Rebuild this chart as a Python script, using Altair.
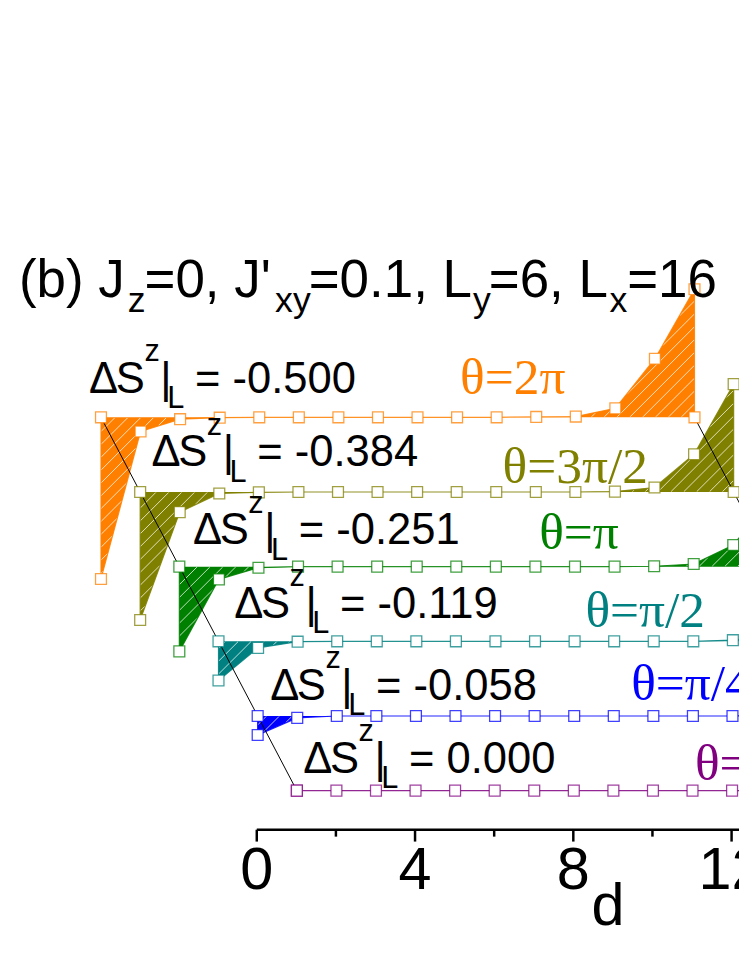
import altair as alt
import numpy as np
import pandas as pd

# ---------------- data ----------------
sites = list(range(16))
theta_text = ["θ=2π", "θ=3π/2", "θ=π", "θ=π/2", "θ=π/4", "θ=0"]
dsl_text = ["-0.500", "-0.384", "-0.251", "-0.119", "-0.058", "0.000"]
row_colors = ["#FF8000", "#808000", "#008000", "#008080", "#0000FF", "#800080"]

prof_2pi = [-0.433, -0.038, -0.005, -0.001, 0, 0, 0, 0, 0, 0, 0, 0.001, 0.002, 0.024, 0.157, 0.343]
prof_3pi2 = [-0.343, -0.054, -0.004, -0.001, 0, 0, 0, 0, 0, 0, 0, 0, 0.001, 0.012, 0.101, 0.289]
prof_pi = [-0.227, -0.034, -0.003, 0, 0, 0, 0, 0, 0, 0, 0, 0, 0.001, 0.007, 0.058, 0.190]
prof_pi2 = [-0.105, -0.0175, -0.001, 0, 0, 0, 0, 0, 0, 0, 0, 0, 0, 0.003, 0.022, 0.094]
prof_pi4 = [-0.051, -0.005, 0, 0, 0, 0, 0, 0, 0, 0, 0, 0, 0, 0.002, 0.008, 0.048]
prof_0 = [0, 0, 0, 0, 0, 0, 0, 0, 0, 0, 0, 0, 0, 0, 0, 0]
profiles = [prof_2pi, prof_3pi2, prof_pi, prof_pi2, prof_pi4, prof_0]

title_parts = [("(b) J", "n"), ("z", "s"), ("=0, J'", "n"), ("xy", "s"),
               ("=0.1, L", "n"), ("y", "s"), ("=6, L", "n"), ("x", "s"), ("=16", "n")]

# ---------------- layout (waterfall offsets, label anchors) ----------------
X_PX, Y_PX = 40.0, 377.4          # px per unit of d / of S^z
X0, Y0 = 259.0, 794.0             # page px of d=0 and of the front baseline
row_dx = [-3.925, -2.935, -1.945, -0.955, 0.035, 1.025]
row_dy = [1.0, 0.8, 0.6, 0.4, 0.2, 0.0]
PAD_L, PAD_T, W, H = X0 - 8, 69, 488, 756
Y_MIN = (Y0 - 833.0) / Y_PX
Y_MAX = Y_MIN + H / Y_PX

dsl_anchor = [(90, 391.7), (153, 466), (195, 545), (236.7, 619), (273, 702), (306.4, 776)]
theta_anchor = [(465, 393), (508, 482.5), (545, 550), (591.7, 628.3), (638, 702.7), (702.4, 783)]
title_x = [19, 129, 146, 278, 312, 478, 494, 616, 634]
TITLE_BASE, TITLE_SUB = 295, 310


def to_data(px, py):
    return (px - X0) / X_PX, (Y0 - py) / Y_PX


# ---------------- tables ----------------
area_rows, line_rows = [], []
for k, prof in enumerate(profiles):
    for i, v in zip(sites, prof):
        area_rows.append(dict(x=row_dx[k] + i, y=row_dy[k] + v, y0=row_dy[k], row=k, color=row_colors[k]))
    pts = [(sites[0], 0.0)] + list(zip(sites, prof)) + [(sites[-1], 0.0)]
    for j, (i, v) in enumerate(pts):
        line_rows.append(dict(x=row_dx[k] + i, y=row_dy[k] + v, row=k, order=j, color=row_colors[k]))
area_df = pd.DataFrame(area_rows)
line_df = pd.DataFrame(line_rows)

diag_df = pd.DataFrame([
    dict(x=row_dx[0], y=row_dy[0], g="L", o=0), dict(x=row_dx[-1], y=row_dy[-1], g="L", o=1),
    dict(x=row_dx[0] + sites[-1], y=row_dy[0], g="R", o=0), dict(x=row_dx[-1] + sites[-1], y=row_dy[-1], g="R", o=1),
])

# hatch (white diagonal lines inside each filled region)
HATCH = 13.0
hatch_rows = []
for k, prof in enumerate(profiles):
    xs = X0 + X_PX * (row_dx[k] + np.array(sites, dtype=float))
    ys = Y0 - Y_PX * (row_dy[k] + np.array(prof, dtype=float))
    base = Y0 - Y_PX * row_dy[k]
    px = np.arange(xs[0], xs[-1] + 1e-6, 0.25)
    f = np.interp(px, xs, ys)
    lo, hi = np.minimum(f, base), np.maximum(f, base)
    if (hi - lo).max() < 1.0:
        continue
    c0 = np.floor((px[0] + lo.min()) / HATCH) * HATCH
    for c in np.arange(c0, px[-1] + hi.max() + HATCH, HATCH):
        yl = c - px
        inside = (yl > lo + 0.4) & (yl < hi - 0.4)
        edges = np.flatnonzero(np.diff(np.concatenate([[0], inside.astype(int), [0]])))
        for a, b in zip(edges[::2], edges[1::2]):
            p0, p1 = px[a], px[b - 1]
            if p1 - p0 < 1.0:
                continue
            x1, y1 = to_data(p0, c - p0)
            x2, y2 = to_data(p1, c - p1)
            hatch_rows.append(dict(x=x1, y=y1, x2=x2, y2=y2))
hatch_df = pd.DataFrame(hatch_rows)

# text pieces
sans_rows, serif_rows = [], []
for k, val in enumerate(dsl_text):
    ax, ay = dsl_anchor[k]
    pieces = [("Δ", 0, 0, 44), ("S", 27, 0, 44), ("z", 56, -32, 31),
              ("|", 72, 0, 44), ("L", 79, 15.5, 31), ("= " + val, 107, 0, 44)]
    for t, ddx, ddy, fs in pieces:
        x, y = to_data(ax + ddx, ay + ddy)
        sans_rows.append(dict(x=x, y=y, text=t, fs=fs, color="black"))
for (t, kind), tx in zip(title_parts, title_x):
    x, y = to_data(tx, TITLE_BASE if kind == "n" else TITLE_SUB)
    sans_rows.append(dict(x=x, y=y, text=t, fs=53.5 if kind == "n" else 36, color="black"))
for k, t in enumerate(theta_text):
    x, y = to_data(*theta_anchor[k])
    serif_rows.append(dict(x=x, y=y, text=t, fs=52, color=row_colors[k]))
sans_df = pd.DataFrame(sans_rows)
serif_df = pd.DataFrame(serif_rows)

# ---------------- encodings ----------------
axis_x = alt.Axis(
    values=[0, 2, 4, 6, 8, 10, 12],
    labelExpr="datum.value % 4 === 0 ? datum.label : ''",
    tickSize={"condition": {"test": "datum.value % 4 === 0", "value": 12}, "value": 7},
    tickWidth=2.5, tickColor="black", domainWidth=2.5, domainColor="black",
    labelFont="Liberation Sans", labelFontSize=60, labelColor="black",
    labelPadding=48, labelBaseline="alphabetic", labelFlush=False,
    labelOverlap=False, labelBound=False, grid=False,
    title="d", titleFont="Liberation Sans", titleFontSize=60, titleFontWeight="normal",
    titleColor="black", titleX=355, titleY=96, titleAlign="center", titleBaseline="alphabetic",
)
x_enc = alt.X("x:Q", scale=alt.Scale(domain=[0, 12.2], nice=False, zero=False), axis=axis_x)
y_enc = alt.Y("y:Q", scale=alt.Scale(domain=[Y_MIN, Y_MAX], nice=False, zero=False), axis=None)

areas = alt.Chart(area_df).mark_area(interpolate="linear", opacity=1).encode(
    x=x_enc, y=y_enc, y2=alt.Y2("y0:Q"),
    color=alt.Color("color:N", scale=None), detail="row:N")

hatch = alt.Chart(hatch_df).mark_rule(color="white", strokeWidth=1, opacity=0.75).encode(
    x=x_enc, y=y_enc, x2=alt.X2("x2:Q"), y2=alt.Y2("y2:Q"))

lines = alt.Chart(line_df).mark_line(strokeWidth=1.2, opacity=0.85).encode(
    x=x_enc, y=y_enc, color=alt.Color("color:N", scale=None), detail="row:N", order="order:Q")

diag = alt.Chart(diag_df).mark_line(color="black", strokeWidth=1).encode(
    x=x_enc, y=y_enc, detail="g:N", order="o:Q")

points = alt.Chart(line_df).mark_point(shape="square", size=121, filled=True, fill="white",
                                       fillOpacity=1, opacity=1, strokeWidth=1.3,
                                       strokeOpacity=0.75).encode(
    x=x_enc, y=y_enc, stroke=alt.Stroke("color:N", scale=None))

sans_text = alt.Chart(sans_df).mark_text(align="left", baseline="alphabetic",
                                         font="Liberation Sans").encode(
    x=x_enc, y=y_enc, text="text:N", size=alt.Size("fs:Q", scale=None),
    color=alt.Color("color:N", scale=None))

serif_text = alt.Chart(serif_df).mark_text(align="left", baseline="alphabetic",
                                           font="Liberation Serif").encode(
    x=x_enc, y=y_enc, text="text:N", size=alt.Size("fs:Q", scale=None),
    color=alt.Color("color:N", scale=None))

chart = alt.layer(areas, hatch, lines, diag, points, sans_text, serif_text).properties(
    width=W, height=H,
    padding={"left": PAD_L, "top": PAD_T, "right": 0, "bottom": 125},
    autosize=alt.AutoSizeParams(type="none"),
).configure_view(stroke=None)

chart.save("out.html", embed_options={"renderer": "svg", "actions": False})
